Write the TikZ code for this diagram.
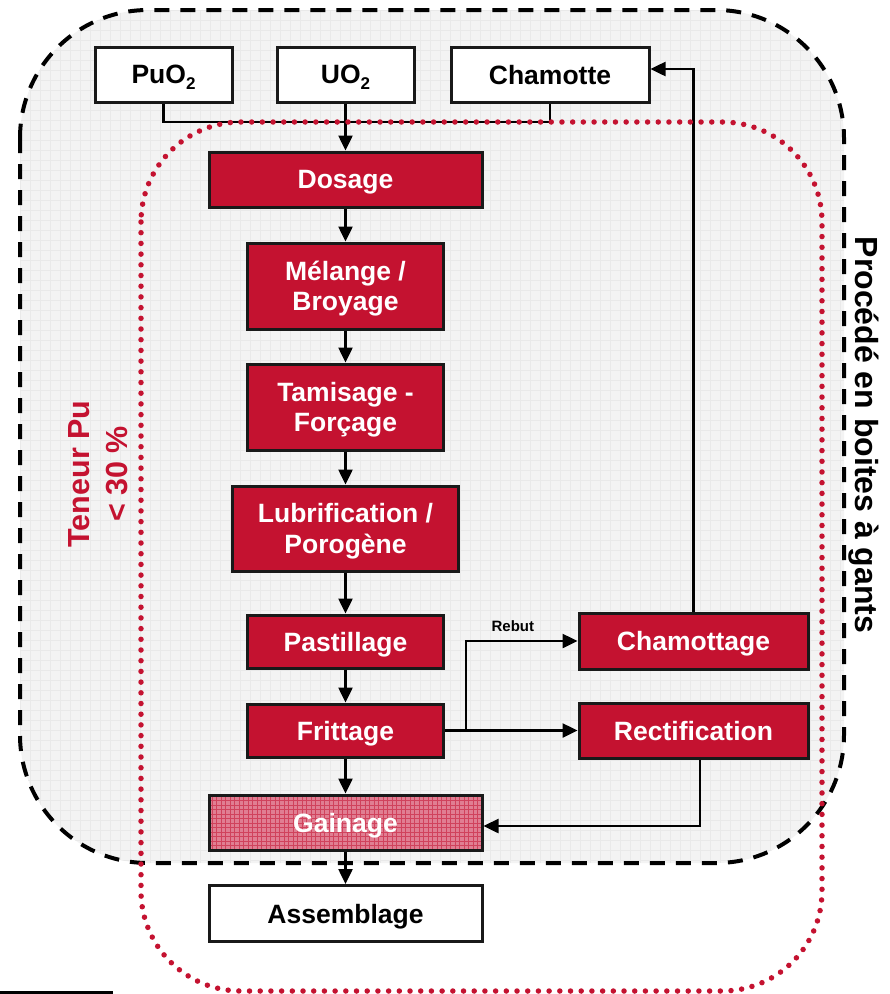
\documentclass[tikz,border=0pt]{standalone}
\usepackage{fontspec}
\setmainfont{Liberation Sans}
\usetikzlibrary{arrows.meta,calc}
\definecolor{crimson}{RGB}{196,18,48}
\definecolor{boxgray}{RGB}{243,243,243}
\definecolor{gridgray}{RGB}{233,233,233}
\definecolor{hatchpink}{RGB}{224,126,146}
\newcommand{\sub}[1]{\raisebox{-6pt}{\fontsize{17}{17}\selectfont #1}}
\tikzset{
  base/.style={draw=black!90, line width=3pt, inner sep=0pt, align=center,
    text depth=0pt, font=\fontsize{26.5}{30.5}\selectfont\bfseries},
  whitebox/.style={base, fill=white, text=black},
  redbox/.style={base, fill=crimson, text=white},
  hatchbox/.style={base, fill=hatchpink, text=white,
    path picture={\draw[crimson, opacity=.55, line width=.8pt]
      (path picture bounding box.south west) grid[step=4.5pt]
      (path picture bounding box.north east);}},
  arr/.style={line width=2.5pt, -{Triangle[length=15pt,width=14pt]}},
  link/.style={line width=2.5pt},
}
\begin{document}
\begin{tikzpicture}[x=1pt,y=-1pt]
\useasboundingbox (0,0) rectangle (890,994);

% glove-box enclosure
\fill[boxgray, rounded corners=128pt] (20,10) rectangle (844,863);
\begin{scope}
  \clip[rounded corners=128pt] (20,10) rectangle (844,863);
  \draw[gridgray, line width=.6pt] (20,10) grid[step=10pt] (844,863);
\end{scope}
\draw[line width=4pt, dash pattern=on 15pt off 11pt, rounded corners=128pt]
  (20,10) rectangle (844,863);

% process steps
\node[whitebox, minimum width=137pt, minimum height=55pt] (pu) at (163.5,74.5) {PuO\sub{2}};
\node[whitebox, minimum width=137pt, minimum height=55pt] (uo) at (345.5,74.5) {UO\sub{2}};
\node[whitebox, minimum width=198pt, minimum height=55pt] (cham) at (550,74.5) {Chamotte};
\node[redbox, minimum width=273pt, minimum height=55pt] (dos) at (345.5,179.5) {Dosage};
\node[redbox, minimum width=196pt, minimum height=86pt] (mel) at (345.5,286) {Mélange /\\Broyage};
\node[redbox, minimum width=196pt, minimum height=86pt] (tam) at (345.5,407) {Tamisage -\\Forçage};
\node[redbox, minimum width=226pt, minimum height=85pt] (lub) at (345.5,528.5) {Lubrification /\\Porogène};
\node[redbox, minimum width=196pt, minimum height=53pt] (pas) at (345.5,641.5) {Pastillage};
\node[redbox, minimum width=196pt, minimum height=53pt] (fri) at (345.5,730.5) {Frittage};
\node[hatchbox, minimum width=273pt, minimum height=55pt] (gai) at (345.5,822.5) {Gainage};
\node[whitebox, minimum width=273pt, minimum height=56pt] (ass) at (345.5,913.5) {Assemblage};
\node[redbox, minimum width=229pt, minimum height=56pt] (chg) at (693.5,641) {Chamottage};
\node[redbox, minimum width=229pt, minimum height=55pt] (rec) at (693.5,730.5) {Rectification};

% flows
\coordinate (feed) at (164,122);
\coordinate (split) at (466,730.5);
\draw[link] (pu.south) |- (cham.south |- feed) -- (cham.south);
\draw[arr] (uo.south) -- (dos.north);
\draw[arr] (dos) -- (mel);
\draw[arr] (mel) -- (tam);
\draw[arr] (tam) -- (lub);
\draw[arr] (lub) -- (pas);
\draw[arr] (pas) -- (fri);
\draw[arr] (fri) -- (gai);
\draw[arr] (gai) -- (ass);
\draw[arr] (fri.east) -- (rec.west);
\draw[arr] (split) |- (chg.west)
  node[pos=0.71, above=5pt, font=\fontsize{15}{17}\selectfont\bfseries] (rebut) {Rebut};
\draw[arr] (chg.north) |- ([yshift=5.5pt]cham.east);
\draw[arr] ([xshift=6.5pt]rec.south) |- ([yshift=-3.5pt]gai.east);

% Pu content boundary
\draw[crimson, line width=5.5pt, line cap=round, dash pattern=on 0pt off 10.7pt,
  rounded corners=100pt] (141,122) rectangle (822,991);

% side labels
\node[crimson, rotate=90, align=center,
  font=\fontsize{30.5}{38}\selectfont\bfseries] (teneur) at (98,474) {Teneur Pu\\< 30 \%};
\node[rotate=-90, font=\fontsize{32}{36}\selectfont\bfseries] (gloves) at (864,435)
  {Procédé en boites à gants};

\draw[line width=3pt] (0,992) -- (113,992);
\end{tikzpicture}
\end{document}
